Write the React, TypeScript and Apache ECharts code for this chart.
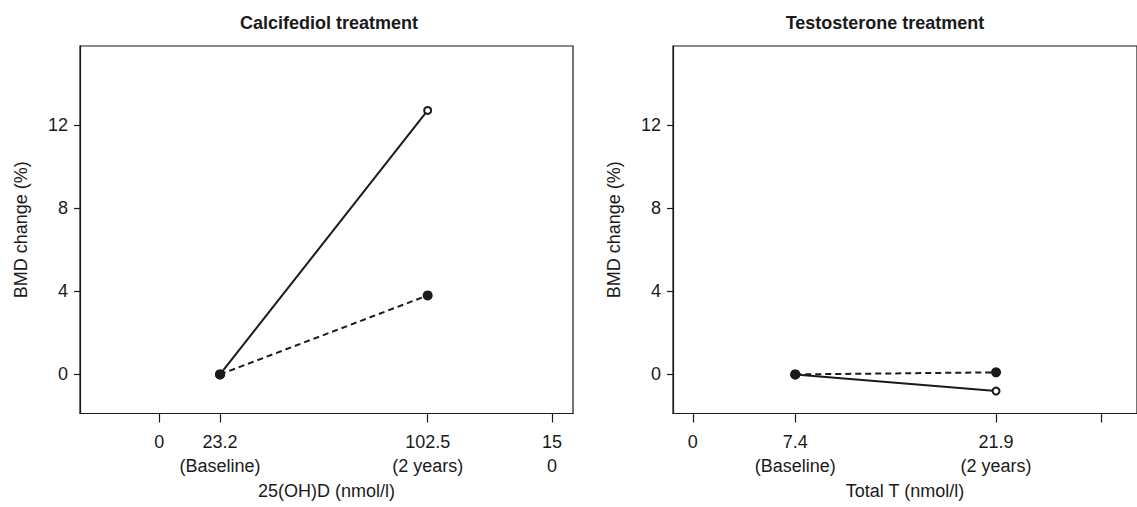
import React, { useEffect, useRef } from "react";
import * as echarts from "echarts";

// ---- data ----
const leftX = [23.2, 102.5];
const leftSolid = [0, 12.7];
const leftDashed = [0, 3.8];
const rightX = [7.4, 21.9];
const rightSolid = [0, -0.8];
const rightDashed = [0, 0.1];

const leftTicks = [0, 23.2, 102.5, 150];
const leftTickLabels = ["0", "23.2\n(Baseline)", "102.5\n(2 years)", "15\n0"];
const rightTicks = [0, 7.4, 21.9, 29.5];
const rightLabelTicks = [0, 7.4, 21.9];
const rightTickLabels = ["0", "7.4\n(Baseline)", "21.9\n(2 years)"];
const yTicks = [0, 4, 8, 12];

const titles = ["Calcifediol treatment", "Testosterone treatment"];
const xNames = ["25(OH)D (nmol/l)", "Total T (nmol/l)"];
const yName = "BMD change (%)";

const INK = "#1a1a1a";
const FONT = "Liberation Sans, Arial, sans-serif";

function points(xs: number[], ys: number[], openLast: boolean) {
  return xs.map((x, i) => {
    const open = openLast && i === xs.length - 1;
    return {
      value: [x, ys[i]],
      symbol: "circle",
      symbolSize: open ? 7 : 10,
      itemStyle: open
        ? { color: "#fff", borderColor: INK, borderWidth: 2 }
        : { color: INK, borderWidth: 0 },
    };
  });
}

export default function App() {
  const ref = useRef<HTMLDivElement>(null);
  useEffect(() => {
    if (!ref.current) return;
    const chart = echarts.init(ref.current, undefined, { renderer: "svg" });
    const axisLine = { show: true, onZero: false, lineStyle: { color: INK, width: 1.2 } };
    const xAxisCommon = {
      type: "value" as const,
      position: "bottom" as const,
      splitLine: { show: false },
      axisLine,
      axisTick: { show: true, inside: false, length: 9, lineStyle: { color: INK, width: 1.2 } },
      nameLocation: "middle" as const,
      nameGap: 68,
      nameTextStyle: { fontSize: 18, color: INK, fontFamily: FONT },
    };
    const yAxisCommon = {
      type: "value" as const,
      position: "left" as const,
      min: -1.88,
      max: 15.8,
      splitLine: { show: false },
      axisLine,
      axisTick: {
        show: true,
        inside: false,
        length: 6,
        lineStyle: { color: INK, width: 1.2 },
        customValues: yTicks,
      },
      axisLabel: {
        fontSize: 18,
        color: INK,
        fontFamily: FONT,
        margin: 12,
        customValues: yTicks,
      },
      name: yName,
      nameLocation: "middle" as const,
      nameRotate: 90,
      nameGap: 50,
      nameTextStyle: { fontSize: 18, color: INK, fontFamily: FONT },
    };
    const gridCommon = {
      show: true,
      borderColor: INK,
      borderWidth: 1.2,
      backgroundColor: "transparent",
      top: 46,
      height: 367.5,
      width: 493,
    };
    const titleStyle = { fontSize: 18, fontWeight: "bold", color: INK, fontFamily: FONT };
    chart.setOption({
      animation: false,
      backgroundColor: "#fff",
      textStyle: { fontFamily: FONT },
      title: [
        { text: titles[0], left: 324, top: 9, textAlign: "center", textStyle: titleStyle },
        { text: titles[1], left: 880, top: 9, textAlign: "center", textStyle: titleStyle },
      ],
      grid: [
        { ...gridCommon, left: 80 },
        { ...gridCommon, left: 673 },
      ],
      xAxis: [
        {
          ...xAxisCommon,
          gridIndex: 0,
          min: -30.26,
          max: 158.0,
          name: xNames[0],
          axisTick: { ...xAxisCommon.axisTick, customValues: leftTicks },
          axisLabel: {
            customValues: leftTicks,
            fontSize: 18,
            lineHeight: 24,
            color: INK,
            fontFamily: FONT,
            margin: 16,
            formatter: (v: number) => {
              const i = leftTicks.findIndex((t) => Math.abs(t - v) < 1e-6);
              return i >= 0 ? leftTickLabels[i] : "";
            },
          },
        },
        {
          ...xAxisCommon,
          gridIndex: 1,
          min: -1.43,
          max: 32.08,
          name: xNames[1],
          axisTick: { ...xAxisCommon.axisTick, customValues: rightTicks },
          axisLabel: {
            customValues: rightLabelTicks,
            fontSize: 18,
            lineHeight: 24,
            color: INK,
            fontFamily: FONT,
            margin: 16,
            formatter: (v: number) => {
              const i = rightLabelTicks.findIndex((t) => Math.abs(t - v) < 1e-6);
              return i >= 0 ? rightTickLabels[i] : "";
            },
          },
        },
      ],
      yAxis: [
        { ...yAxisCommon, gridIndex: 0 },
        { ...yAxisCommon, gridIndex: 1 },
      ],
      series: [
        {
          type: "line",
          xAxisIndex: 0,
          yAxisIndex: 0,
          data: points(leftX, leftDashed, false),
          lineStyle: { color: INK, width: 2, type: [6, 4] },
          z: 2,
        },
        {
          type: "line",
          xAxisIndex: 0,
          yAxisIndex: 0,
          data: points(leftX, leftSolid, true),
          lineStyle: { color: INK, width: 2, type: "solid" },
          z: 3,
        },
        {
          type: "line",
          xAxisIndex: 1,
          yAxisIndex: 1,
          data: points(rightX, rightDashed, false),
          lineStyle: { color: INK, width: 2, type: [6, 4] },
          z: 2,
        },
        {
          type: "line",
          xAxisIndex: 1,
          yAxisIndex: 1,
          data: points(rightX, rightSolid, true),
          lineStyle: { color: INK, width: 2, type: "solid" },
          z: 3,
        },
      ],
    });
    return () => chart.dispose();
  }, []);
  return (
    <div
      ref={ref}
      style={{ position: "fixed", left: 0, top: 0, width: 1137, height: 507, background: "#fff" }}
    />
  );
}
